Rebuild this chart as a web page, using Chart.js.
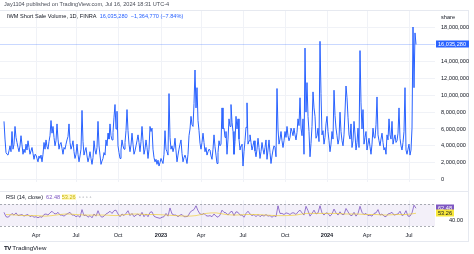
<!DOCTYPE html>
<html>
<head>
<meta charset="utf-8">
<script src="https://cdn.jsdelivr.net/npm/chart.js@4.4.1/dist/chart.umd.min.js"></script>
<style>
  html, body { margin: 0; padding: 0; background: #fff; }
  body { width: 474px; height: 254px; position: relative; overflow: hidden;
         font-family: "Liberation Sans", Arial, sans-serif; color: #131722; }
  .txt { position: absolute; white-space: nowrap; font-size: 5.6px; line-height: 7px; }
  canvas { position: absolute; left: 0; }
  #frame { position: absolute; left: -1px; top: 10px; width: 469px; height: 230px;
           border: 1px solid #e6e9f0; border-left: none; }
  #sep { position: absolute; left: 0; top: 191px; width: 469px; height: 1px; background: #e6e9f0; }
</style>
</head>
<body>
<div id="frame"></div>
<div id="sep"></div>
<canvas id="main" width="474" height="191" style="top:0;width:474px;height:191px"></canvas>
<canvas id="rsi" width="474" height="50" style="top:191px;width:474px;height:50px"></canvas>

<div class="txt" style="left:4px;top:1px;color:#4a4e59">Jay1104 published on TradingView.com, Jul 16, 2024 18:31 UTC-4</div>
<div class="txt" style="left:7px;top:13px">IWM Short Sale Volume, 1D, FINRA&nbsp;
  <span style="color:#2962ff">16,035,280&nbsp;&nbsp;−1,364,770 (−7.84%)</span></div>
<div class="txt" style="left:441px;top:14px">share</div>
<div class="txt" style="left:6px;top:194px">RSI (14, close)&nbsp;
  <span style="color:#7e57c2">62.48</span>&nbsp;<span style="color:#c9b400;background:#fff9c4">53.26</span>
  <span style="color:#8a8e99">&nbsp;◦&nbsp;◦&nbsp;◦&nbsp;◦</span></div>
<div class="txt" style="left:4px;top:244px;font-size:6.2px"><b style="letter-spacing:-0.6px">TV</b> TradingView</div>

<script>
// daily short sale volume, millions of shares (one sample per plotted step)
const shortVolM = [
  6.9,4.8,3.2,3.0,2.9,3.4,4.0,3.3,5.7,3.6,
  4.2,6.3,5.0,4.4,3.8,3.3,4.0,5.2,4.1,3.0,
  3.6,3.2,4.2,3.5,4.6,3.8,3.0,3.4,3.8,3.1,
  2.4,3.0,2.9,2.5,2.1,2.8,2.5,2.9,2.1,3.0,
  4.4,3.6,4.7,3.9,3.6,4.5,5.2,7.0,5.5,6.3,
  5.0,4.0,4.6,6.6,4.8,3.6,4.2,4.4,3.7,3.0,
  3.8,3.6,4.2,4.7,5.1,6.6,4.4,3.6,4.0,4.6,
  3.3,2.5,3.0,4.2,3.0,2.1,2.8,3.6,8.2,4.5,
  2.9,3.4,3.8,2.8,2.1,2.6,3.3,2.5,1.8,2.6,
  4.6,3.5,3.0,3.8,6.9,4.0,2.9,1.8,2.2,2.5,
  3.2,2.9,4.7,4.0,5.5,4.8,6.6,5.2,4.7,5.6,
  7.4,8.9,6.0,8.1,4.0,3.2,2.5,3.5,4.7,4.0,
  3.6,4.4,5.8,8.3,5.8,4.2,3.3,4.1,5.5,4.2,
  3.0,3.4,4.0,4.6,5.3,4.4,3.3,4.5,6.3,4.6,
  3.0,3.6,4.7,3.8,2.5,3.6,6.3,5.7,6.1,3.6,
  2.6,2.1,2.4,1.8,2.3,1.6,2.0,2.5,2.2,1.9,
  3.0,5.8,3.6,3.3,2.9,10.2,5.0,3.6,4.0,3.3,
  3.8,4.9,3.4,2.1,2.9,3.6,4.2,4.7,3.1,2.1,
  2.6,2.9,2.5,1.9,3.0,5.2,6.0,7.5,6.5,6.3,
  9.0,13.0,8.5,10.9,7.0,5.8,4.3,3.6,4.4,5.5,
  4.4,3.3,3.8,2.9,3.3,3.6,3.5,2.8,2.4,3.6,
  5.3,3.9,2.9,1.9,3.2,4.6,4.0,4.2,8.5,6.0,
  6.1,5.0,5.7,3.0,4.8,7.2,6.3,8.9,6.8,5.7,
  3.0,4.5,7.5,6.0,7.2,4.8,3.5,4.0,4.2,1.6,
  3.3,4.6,6.2,9.1,4.2,4.6,5.3,4.4,3.5,4.0,
  4.6,3.4,2.7,3.6,4.9,3.8,2.5,3.3,4.4,3.6,
  3.0,3.8,4.7,2.4,3.5,4.7,3.2,1.9,2.8,3.5,
  4.0,3.8,2.7,10.8,6.0,4.2,4.8,5.7,4.6,3.8,
  4.6,5.7,5.0,6.3,5.2,4.6,5.0,6.1,5.7,5.2,
  6.1,5.3,4.7,5.6,7.2,6.4,9.7,6.1,5.2,7.2,
  3.0,15.6,8.0,11.5,7.5,5.7,2.7,4.3,6.3,10.4,
  8.5,7.5,4.9,5.2,6.1,4.5,16.4,10.2,5.3,5.8,
  4.2,5.0,6.6,7.5,5.7,4.6,3.3,4.2,5.7,4.8,
  10.6,7.6,6.1,5.2,4.2,4.8,8.0,5.7,4.6,4.0,
  5.3,8.0,11.1,9.7,7.4,5.3,4.8,6.6,3.8,4.6,
  6.9,5.4,3.5,4.4,6.1,3.8,15.3,9.1,6.0,8.3,
  4.2,5.0,5.7,3.5,4.2,4.9,3.9,3.0,4.2,6.1,
  5.0,4.9,6.5,9.8,5.3,4.6,4.0,4.8,5.5,4.4,
  3.5,3.8,3.0,5.3,4.7,7.2,5.3,4.8,6.9,4.2,
  4.8,5.3,4.4,4.6,5.5,8.5,4.9,4.0,3.5,4.4,
  5.7,10.9,3.5,3.0,3.6,4.2,2.9,3.5,6.1,18.1,
  10.9,17.4,16.03528
];

// RSI(14) read every second step
const rsiValues = [
  55,47,46,49,53,50,54,49,50,51,
  48,50,51,47,49,46,47,45,47,46,
  51,52,50,54,57,53,52,55,50,50,
  48,51,53,55,50,50,47,49,46,60,
  49,50,46,49,45,52,48,58,49,46,
  48,52,54,57,53,58,59,52,47,52,
  49,53,58,49,53,47,50,52,48,55,
  47,52,47,55,56,48,46,45,44,46,
  47,53,48,63,52,50,50,47,50,51,
  47,47,48,55,58,60,67,58,52,51,
  53,49,48,49,47,52,48,46,50,59,
  55,54,50,55,57,49,56,55,50,50,
  46,53,57,52,49,51,47,51,47,50,
  48,51,48,49,46,49,47,67,53,53,
  51,54,53,51,54,54,51,56,59,54,
  50,66,58,48,53,59,52,54,67,54,
  50,54,53,48,52,61,54,50,56,51,
  51,62,56,50,49,55,48,53,66,55,
  51,53,49,50,48,53,54,60,50,52,
  48,47,52,53,55,50,51,52,57,49,
  51,58,48,48,54,68,62.48
];

// RSI-based MA, read every tenth step
const rsiMaValues = [
  51,50,49,49,48,50,52,51,50,50,
  50,49,51,52,51,51,50,49,48,49,
  53,54,51,50,51,51,50,49,49,50,
  53,53,53,53,52,52,51,51,50,51,
  51,53.26
];

const tickIdx = [32, 72, 114, 157, 197, 239, 281, 323, 363, 405];
const tickLabels = ['Apr', 'Jul', 'Oct', '2023', 'Apr', 'Jul', 'Oct', '2024', 'Apr', 'Jul'];
const volTicks = [0, 2, 4, 6, 8, 10, 12, 14, 18];

const lastVol = 16.03528;
const lastRsi = 62.48;
const lastMa = 53.26;

const FONT = 'Liberation Sans';
const gridColor = '#f0f2f7';

function fmtShares(m) {
  return Math.round(m * 1e6).toLocaleString('en-US');
}

// value boxes on the right axis
const axisBoxes = {
  id: 'axisBoxes',
  beforeDatasetsDraw(chart, args, opts) {
    const { ctx, chartArea, scales } = chart;
    ctx.save();
    if (opts.band) {
      const y1 = scales.y.getPixelForValue(opts.band[1]);
      const y2 = scales.y.getPixelForValue(opts.band[0]);
      ctx.fillStyle = 'rgba(126,87,194,0.09)';
      ctx.fillRect(chartArea.left, y1, chartArea.right - chartArea.left, y2 - y1);
      ctx.strokeStyle = '#9598a1';
      ctx.lineWidth = 0.8;
      ctx.setLineDash([2, 2]);
      for (const v of opts.band) {
        const y = Math.round(scales.y.getPixelForValue(v)) + 0.5;
        ctx.beginPath(); ctx.moveTo(chartArea.left, y); ctx.lineTo(chartArea.right, y); ctx.stroke();
      }
      ctx.setLineDash([]);
    }
    for (const m of opts.marks) {
      if (!m.line) continue;
      const y = Math.round(scales.y.getPixelForValue(m.value)) + 0.5;
      ctx.strokeStyle = m.line;
      ctx.lineWidth = 1;
      ctx.beginPath(); ctx.moveTo(chartArea.left, y); ctx.lineTo(chartArea.right, y); ctx.stroke();
    }
    ctx.restore();
  },
  afterDraw(chart, args, opts) {
    const { ctx, chartArea, scales } = chart;
    ctx.save();
    ctx.font = '5.6px "' + FONT + '"';
    ctx.textBaseline = 'middle';
    for (const m of opts.marks) {
      const y = Math.round(scales.y.getPixelForValue(m.value));
      ctx.fillStyle = m.bg;
      ctx.fillRect(chartArea.right + 1, y - 3.5, m.w, 7);
      ctx.fillStyle = m.fg;
      ctx.fillText(m.text, chartArea.right + 3, y + 0.5);
    }
    ctx.restore();
  }
};

const volPoints = shortVolM.map((v, i) => ({ x: i, y: v }));
const rsiPoints = rsiValues.map((v, i) => ({ x: i * 2, y: v }));
const maPoints = rsiMaValues.map((v, i) => ({ x: 2 + i * 10, y: v }));

const xBase = {
  type: 'linear',
  min: -4,
  max: 431,
  afterBuildTicks: s => { s.ticks = tickIdx.map(v => ({ value: v })); },
  grid: { color: gridColor, drawTicks: false },
  border: { display: false }
};

new Chart(document.getElementById('main'), {
  type: 'line',
  data: {
    datasets: [{
      data: volPoints,
      borderColor: '#2962ff',
      borderWidth: 1,
      pointRadius: 0,
      tension: 0
    }]
  },
  options: {
    responsive: false,
    animation: false,
    events: [],
    layout: { padding: { top: 11, left: 0, right: 0, bottom: 0 } },
    plugins: {
      legend: { display: false },
      tooltip: { enabled: false },
      axisBoxes: {
        marks: [{ value: lastVol, text: fmtShares(lastVol), bg: '#2962ff', fg: '#ffffff',
                  w: 33, line: 'rgba(41,98,255,0.25)' }]
      }
    },
    scales: {
      x: Object.assign({}, xBase, {
        ticks: { display: false },
        afterFit: s => { s.height = 0; }
      }),
      y: {
        position: 'right',
        min: -0.25,
        max: 20,
        afterBuildTicks: s => { s.ticks = volTicks.map(v => ({ value: v })); },
        afterFit: s => { s.width = 39; },
        ticks: {
          callback: v => fmtShares(v),
          font: { family: FONT, size: 5.6 },
          color: '#131722',
          padding: 6
        },
        grid: { color: gridColor, drawTicks: false },
        border: { display: false }
      }
    }
  },
  plugins: [axisBoxes]
});

new Chart(document.getElementById('rsi'), {
  type: 'line',
  data: {
    datasets: [
      { data: maPoints, borderColor: 'rgba(240,205,50,0.85)', borderWidth: 0.8, pointRadius: 0, tension: 0.3 },
      { data: rsiPoints, borderColor: '#7e57c2', borderWidth: 0.8, pointRadius: 0, tension: 0 }
    ]
  },
  options: {
    responsive: false,
    animation: false,
    events: [],
    layout: { padding: 0 },
    plugins: {
      legend: { display: false },
      tooltip: { enabled: false },
      axisBoxes: {
        band: [30, 70],
        marks: [
          { value: lastRsi, text: lastRsi.toFixed(2), bg: '#7e57c2', fg: '#ffffff', w: 18 },
          { value: lastMa, text: lastMa.toFixed(2), bg: '#f7e73b', fg: '#131722', w: 18 }
        ]
      }
    },
    scales: {
      x: Object.assign({}, xBase, {
        afterFit: s => { s.height = 12; },
        ticks: {
          autoSkip: false,
          maxRotation: 0,
          padding: 3,
          color: '#131722',
          callback: (v, i) => tickLabels[i],
          font: c => ({ family: FONT, size: 5.6,
                        weight: /^\d{4}$/.test(tickLabels[c.index]) ? 'bold' : 'normal' })
        }
      }),
      y: {
        position: 'right',
        min: 24.5,
        max: 76.9,
        afterBuildTicks: s => { s.ticks = [{ value: 40 }]; },
        afterFit: s => { s.width = 39; },
        ticks: {
          callback: v => v.toFixed(2),
          font: { family: FONT, size: 5.6 },
          color: '#131722',
          padding: 6
        },
        grid: { display: false },
        border: { display: false }
      }
    }
  },
  plugins: [axisBoxes]
});
</script>
</body>
</html>
